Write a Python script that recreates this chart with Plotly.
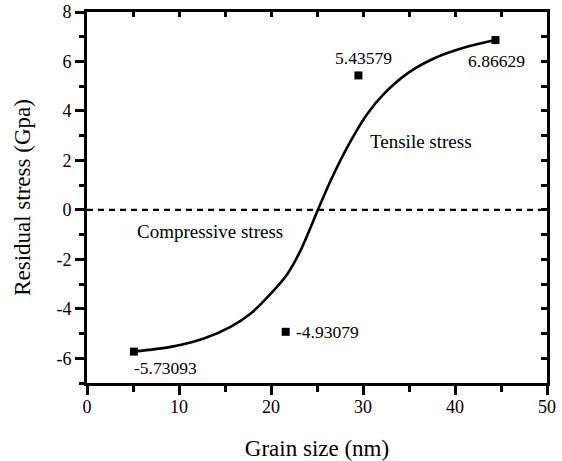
import plotly.graph_objects as go

# Data
curve_x = [5.1, 9.1, 12.7, 15.6, 17.8, 20.0, 21.8, 23.2, 25.1, 26.5, 28.7, 30.5, 32.3, 34.8, 37.7, 41.3, 44.4]
curve_y = [-5.73, -5.54, -5.20, -4.73, -4.19, -3.38, -2.58, -1.65, 0.0, 1.20, 2.81, 3.90, 4.70, 5.51, 6.12, 6.59, 6.866]

point_x = [5.1, 21.6, 29.5, 44.4]
point_y = [-5.73093, -4.93079, 5.43579, 6.86629]
point_labels = ["-5.73093", "-4.93079", "5.43579", "6.86629"]
label_x = [8.5, 26.1, 30.1, 44.5]
label_y = [-6.41, -4.95, 6.13, 6.02]

ref_x = [0, 50]
ref_y = [0, 0]

x_ticks = [0, 10, 20, 30, 40, 50]
x_ticktext = ["0", "10", "20", "30", "40", "50"]
y_ticks = [-6, -4, -2, 0, 2, 4, 6, 8]
y_ticktext = ["-6", "-4", "-2", "0", "2", "4", "6", "8"]

FONT = "Liberation Serif"

fig = go.Figure()
fig.add_trace(go.Scatter(x=ref_x, y=ref_y, mode="lines",
                         line=dict(color="black", width=2.4, dash="6px,5px"),
                         showlegend=False, hoverinfo="skip"))
fig.add_trace(go.Scatter(x=curve_x, y=curve_y, mode="lines",
                         line=dict(color="black", width=2.6, shape="spline", smoothing=0.8),
                         showlegend=False))
fig.add_trace(go.Scatter(x=point_x, y=point_y, mode="markers",
                         marker=dict(symbol="square", size=8, color="black"),
                         showlegend=False))
# invisible trace for the mirror axes
fig.add_trace(go.Scatter(x=[0], y=[0], xaxis="x2", yaxis="y2", mode="markers",
                         marker=dict(opacity=0), showlegend=False, hoverinfo="skip"))

for lx, ly, t in zip(label_x, label_y, point_labels):
    fig.add_annotation(x=lx, y=ly, text=t, showarrow=False,
                       font=dict(family=FONT, size=17.5, color="black"))

fig.add_annotation(x=13.4, y=-0.89, text="Compressive stress", showarrow=False,
                   font=dict(family=FONT, size=19, color="black"))
fig.add_annotation(x=36.3, y=2.75, text="Tensile stress", showarrow=False,
                   font=dict(family=FONT, size=19, color="black"))

axis_common = dict(showgrid=False, zeroline=False, showline=True, linecolor="black",
                   linewidth=3, tickcolor="black", tickwidth=2.5, automargin=False)

fig.update_layout(
    width=562, height=461,
    margin=dict(l=87, r=15, t=12, b=78),
    plot_bgcolor="white", paper_bgcolor="white",
    font=dict(family=FONT, color="black"),
    xaxis=dict(range=[0, 50], tickvals=x_ticks, ticktext=x_ticktext, ticks="outside", ticklen=9,
               tickfont=dict(family=FONT, size=18), ticklabelstandoff=-4,
               minor=dict(ticks="outside", dtick=5, ticklen=6, tickcolor="black", tickwidth=2.5),
               title=dict(text="Grain size (nm)", font=dict(family=FONT, size=23), standoff=26),
               **axis_common),
    yaxis=dict(range=[-7, 8], tickvals=y_ticks, ticktext=y_ticktext, ticks="outside", ticklen=9,
               tickfont=dict(family=FONT, size=18),
               minor=dict(ticks="outside", dtick=1, ticklen=5, tickcolor="black", tickwidth=2.5),
               title=dict(text="Residual stress (Gpa)", font=dict(family=FONT, size=23), standoff=20),
               **axis_common),
    xaxis2=dict(range=[0, 50], overlaying="x", side="top", anchor="y", dtick=5, tick0=0,
                ticks="inside", ticklen=5, showticklabels=False, **axis_common),
    yaxis2=dict(range=[-7, 8], overlaying="y", side="right", anchor="x", dtick=1, tick0=0,
                ticks="inside", ticklen=6, showticklabels=False, **axis_common),
)

fig.write_html("out.html")
